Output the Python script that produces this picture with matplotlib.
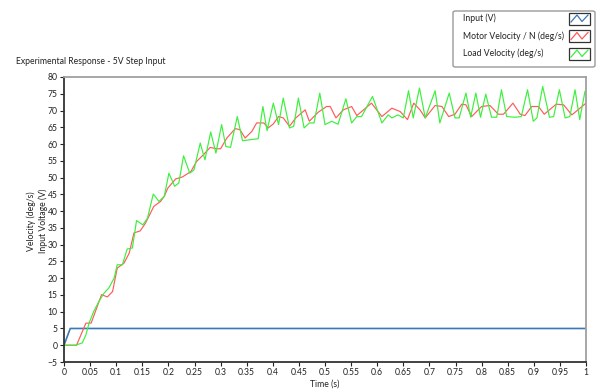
import matplotlib
matplotlib.use("Agg")
import matplotlib.pyplot as plt
from matplotlib.patches import Rectangle, FancyBboxPatch
from matplotlib.lines import Line2D

# ---------------- data ----------------
input_t = [0.0, 0.012, 1.0]
input_v = [0.0, 5.0, 5.0]

motor_t = [0.0, 0.024, 0.042, 0.052, 0.072, 0.083, 0.093, 0.102, 0.115, 0.125,
           0.134, 0.146, 0.156, 0.172, 0.185, 0.192, 0.199, 0.214, 0.227, 0.243,
           0.254, 0.267, 0.280, 0.292, 0.300, 0.312, 0.328, 0.337, 0.347, 0.360,
           0.369, 0.383, 0.391, 0.401, 0.411, 0.420, 0.432, 0.444, 0.462, 0.470,
           0.487, 0.503, 0.510, 0.521, 0.535, 0.551, 0.561, 0.589, 0.609, 0.628,
           0.644, 0.658, 0.670, 0.682, 0.692, 0.711, 0.724, 0.737, 0.749, 0.762,
           0.770, 0.781, 0.800, 0.816, 0.832, 0.842, 0.860, 0.874, 0.883, 0.896,
           0.909, 0.920, 0.943, 0.957, 0.973, 1.0]
motor_v = [0.0, 0.0, 6.6, 6.6, 15.1, 14.4, 16.0, 23.0, 24.5, 27.5,
           33.5, 34.1, 36.4, 41.4, 42.9, 44.4, 46.9, 49.6, 50.2, 51.8,
           54.8, 56.8, 59.0, 58.6, 58.6, 61.8, 64.6, 64.3, 61.8, 63.8,
           66.3, 66.3, 64.8, 66.0, 68.2, 67.8, 65.3, 67.8, 70.2, 66.8,
           69.5, 71.2, 71.2, 67.8, 70.2, 71.2, 68.5, 72.2, 68.2, 70.7,
           69.7, 67.3, 72.2, 70.2, 67.8, 71.5, 71.2, 68.2, 68.9, 71.9,
           71.7, 68.2, 71.2, 71.5, 68.9, 68.9, 72.2, 68.9, 68.5, 71.2,
           71.2, 68.9, 71.9, 71.7, 68.7, 72.2]

load_t = [0.0, 0.022, 0.035, 0.042, 0.048, 0.057, 0.067, 0.077, 0.086, 0.096,
          0.102, 0.112, 0.121, 0.131, 0.139, 0.151, 0.160, 0.171, 0.182, 0.192,
          0.201, 0.212, 0.220, 0.229, 0.241, 0.249, 0.261, 0.270, 0.281, 0.291,
          0.302, 0.310, 0.319, 0.332, 0.342, 0.372, 0.381, 0.389, 0.401, 0.411,
          0.420, 0.432, 0.440, 0.449, 0.460, 0.470, 0.479, 0.490, 0.500, 0.513,
          0.525, 0.540, 0.551, 0.561, 0.570, 0.591, 0.609, 0.621, 0.628, 0.640,
          0.650, 0.660, 0.669, 0.681, 0.692, 0.711, 0.720, 0.738, 0.749, 0.757,
          0.770, 0.779, 0.789, 0.798, 0.808, 0.819, 0.829, 0.838, 0.848, 0.864,
          0.876, 0.888, 0.899, 0.906, 0.917, 0.930, 0.938, 0.949, 0.960, 0.969,
          0.979, 0.988, 0.998]
load_v = [0.0, 0.0, 0.7, 3.1, 6.6, 10.1, 13.1, 15.6, 17.1, 20.0,
          24.0, 24.0, 28.7, 29.0, 37.2, 35.9, 37.9, 45.1, 42.9, 44.4,
          51.3, 47.4, 48.4, 56.5, 51.3, 52.3, 60.3, 55.3, 63.6, 57.3,
          65.8, 59.3, 59.0, 68.2, 61.0, 61.6, 71.2, 64.0, 72.2, 65.8,
          73.7, 64.8, 65.3, 73.7, 64.8, 66.3, 66.3, 75.2, 65.8, 66.8,
          65.9, 73.5, 66.3, 68.2, 68.2, 74.2, 66.3, 68.7, 67.8, 68.7,
          67.8, 75.9, 67.8, 76.7, 67.8, 75.9, 66.3, 75.2, 67.8, 67.8,
          75.2, 68.0, 75.2, 68.0, 74.9, 68.0, 68.0, 76.2, 68.2, 68.0,
          68.2, 76.2, 66.8, 67.8, 77.2, 68.0, 68.2, 76.2, 67.8, 68.2,
          76.2, 67.3, 75.7]

x_ticks = [i * 0.05 for i in range(21)]
x_tick_labels = ['0', '0.05', '0.1', '0.15', '0.2', '0.25', '0.3', '0.35', '0.4',
                 '0.45', '0.5', '0.55', '0.6', '0.65', '0.7', '0.75', '0.8',
                 '0.85', '0.9', '0.95', '1']
y_ticks = list(range(-5, 81, 5))

series_names = ['Input (V)', 'Motor Velocity / N (deg/s)', 'Load Velocity (deg/s)']
colors = ['#3a78b8', '#ff5a5a', '#3cf03c']

# ---------------- figure ----------------
W, H = 603, 389
plt.rcParams['font.family'] = ['Lato', 'DejaVu Sans']
fig = plt.figure(figsize=(W / 100, H / 100), dpi=100)
fig.patch.set_facecolor('white')

def fx(px):
    return px / W

def fy(py):
    return 1 - py / H

FS = 6.2
L, R, T, B = 64, 586, 77, 362
ax = fig.add_axes([fx(L), fy(B), fx(R) - fx(L), fy(T) - fy(B)])

ax.plot(input_t, input_v, color=colors[0], lw=1.2)
ax.plot(motor_t, motor_v, color=colors[1], lw=0.85)
ax.plot(load_t, load_v, color=colors[2], lw=0.85)

ax.set_xlim(0, 1)
ax.set_ylim(-5, 80)
ax.set_xticks(x_ticks)
ax.set_xticklabels(x_tick_labels)
ax.set_yticks(y_ticks)
ax.tick_params(axis='both', labelsize=6.2, colors='#222222', length=3, width=0.8, pad=1.5)

for s in ['left', 'bottom']:
    ax.spines[s].set_color('#333333')
    ax.spines[s].set_linewidth(1.3)
for s in ['top', 'right']:
    ax.spines[s].set_color('#a0a0a0')
    ax.spines[s].set_linewidth(1.3)

ax.set_xlabel('Time (s)', fontsize=FS, labelpad=2, color='#222222')
fig.text(fx(16), fy(61), 'Experimental Response - 5V Step Input', fontsize=FS,
         ha='left', va='center', color='#222222')
fig.text(fx(31.5), fy(221), 'Velocity (deg/s)', fontsize=FS, rotation=90,
         ha='center', va='center', color='#222222')
fig.text(fx(43), fy(221), 'Input Voltage (V)', fontsize=FS, rotation=90,
         ha='center', va='center', color='#222222')

# ---------------- legend ----------------
box = FancyBboxPatch((fx(453), fy(67)), fx(595) - fx(453), fy(11) - fy(67),
                     boxstyle='round,pad=0,rounding_size=0.004',
                     transform=fig.transFigure, facecolor='white',
                     edgecolor='#9a9a9a', lw=1.0)
fig.patches.append(box)
rows = [18.5, 36, 53.5]
for name, col, yc in zip(series_names, colors, rows):
    fig.text(fx(463), fy(yc), name, fontsize=FS, ha='left', va='center', color='#222222')
    x0, x1 = 569, 590
    y0, y1 = yc - 6, yc + 6
    rect = Rectangle((fx(x0), fy(y1)), fx(x1) - fx(x0), fy(y0) - fy(y1),
                     transform=fig.transFigure, facecolor='white',
                     edgecolor='#333333', lw=0.9)
    fig.patches.append(rect)
    zx = [x0 + 2, x0 + 8, x0 + 13, x0 + 19]
    zy = [y1 - 2.5, y0 + 2.5, y1 - 3, y0 + 2.5]
    fig.lines.append(Line2D([fx(v) for v in zx], [fy(v) for v in zy],
                            transform=fig.transFigure, color=col, lw=0.9))

fig.savefig('out.png', dpi=100, facecolor='white')
